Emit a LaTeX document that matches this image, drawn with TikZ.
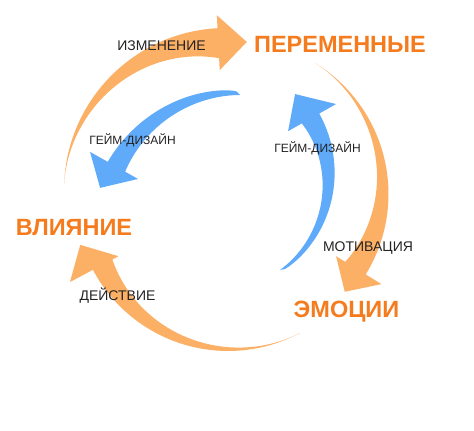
\documentclass[tikz,border=0pt]{standalone}
\usepackage{fontspec}
\setmainfont{Liberation Sans}
\usepackage{tikz}
\usetikzlibrary{positioning}
\definecolor{arroworange}{RGB}{252,176,102}
\definecolor{arrowblue}{RGB}{96,170,250}
\definecolor{labelorange}{RGB}{245,124,30}
\definecolor{labeldark}{RGB}{34,34,34}

\begin{document}
\begin{tikzpicture}[
    x=1pt,y=1pt,
    big/.style={text=labelorange,font=\fontsize{23.5}{28}\selectfont\bfseries,inner sep=0pt,anchor=base},
    small/.style={text=labeldark,font=\fontsize{14}{17}\selectfont,inner sep=0pt,anchor=base},
    design/.style={small,font=\fontsize{12}{14}\selectfont},
    orangearrow/.style={fill=arroworange},
    bluearrow/.style={fill=arrowblue},
]
    \useasboundingbox (0,0) rectangle (474,-431);

    %orange arrows
    \fill[orangearrow,shift={(226,-190)}] (178:162) arc[start angle=178,end angle=93,radius=162]
        -- (93:175) -- (82:149.5) -- (93:120) -- (93:132)
        -- plot[domain=1:0,samples=40,variable=\t] ({178-85*\t}:{162-30*\t*sqrt(\t)}) -- cycle;
    \fill[orangearrow,shift={(235,-194)}] (58.6:153.5) arc[start angle=58.6,end angle=-31.6,radius=153.5]
        -- (-31.6:172) -- (-41.7:147) -- (-31.6:118.7) -- (-31.6:129.5)
        -- plot[domain=1:0,samples=40,variable=\t] ({58.6-90.2*\t}:{153.5-24*\t*sqrt(\t)}) -- cycle;
    \fill[orangearrow,shift={(228,-198)}] (-61.9:153) arc[start angle=-61.9,end angle=-152,radius=153]
        -- (-152:179) -- (-162.4:155) -- (-152:124) -- (-152:131)
        -- plot[domain=1:0,samples=40,variable=\t] ({-61.9-90.1*\t}:{153-22*\t*sqrt(\t)}) -- cycle;

    %blue arrows
    \fill[bluearrow,shift={(238.4,-235.5)}]
        plot[domain=0:1,samples=40,variable=\t] ({89.3+61.3*\t}:{140.5+9.5*sqrt(sqrt(\t))})
        -- (150.6:170.3) -- (161:146.3) -- (150.6:115.2) -- (150.6:130)
        -- plot[domain=1:0,samples=40,variable=\t] ({89.3+61.3*\t}:{140.5-10.5*\t*sqrt(\t)}) -- cycle;
    \fill[bluearrow,shift={(212.2,-174.1)}]
        plot[domain=0:1,samples=40,variable=\t] ({-54.7+84.2*\t}:{117.4+5.6*sqrt(sqrt(\t))})
        -- (29.5:142.3) -- (44:115.2) -- (29.5:87.2) -- (29.5:103)
        -- plot[domain=1:0,samples=40,variable=\t] ({-54.7+84.2*\t}:{117.4-14.4*\t*sqrt(\t)}) -- cycle;

    %labels
    \node[big] (var) at (340,-52) {ПЕРЕМЕННЫЕ};
    \node[big] (emo) at (346.5,-317) {ЭМОЦИИ};
    \node[big] (infl) at (74,-235) {ВЛИЯНИЕ};
    \node[small] (chg) at (161.5,-50) {ИЗМЕНЕНИЕ};
    \node[small] (mot) at (368,-251) {МОТИВАЦИЯ};
    \node[small] (act) at (117.5,-300) {ДЕЙСТВИЕ};
    \node[design] (gd1) at (132.5,-144) {ГЕЙМ-ДИЗАЙН};
    \node[design] (gd2) at (317.5,-152) {ГЕЙМ-ДИЗАЙН};
\end{tikzpicture}
\end{document}
